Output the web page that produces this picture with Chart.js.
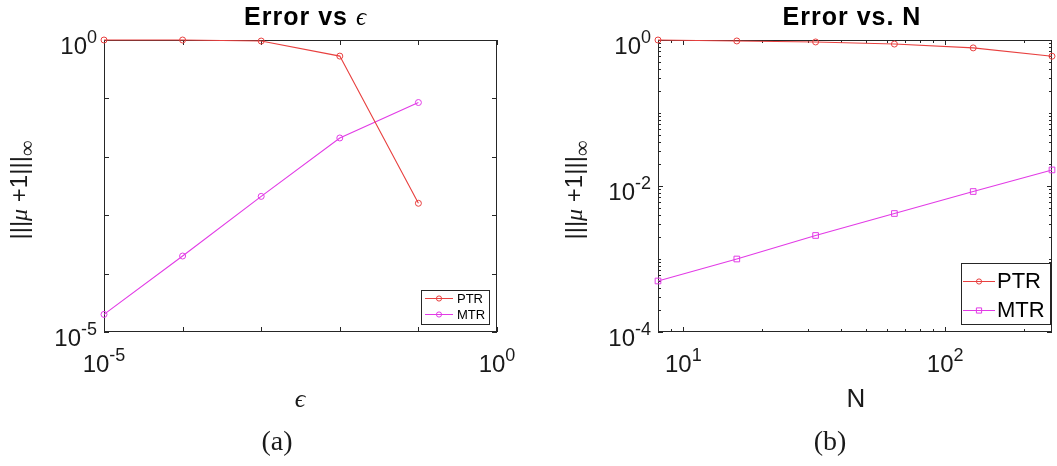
<!DOCTYPE html>
<html>
<head>
<meta charset="utf-8">
<script src="https://cdn.jsdelivr.net/npm/chart.js@4"></script>
<style>
  html, body { margin: 0; padding: 0; background: #fff; }
  #wrap { position: relative; width: 1057px; height: 466px; overflow: hidden; }
  canvas { position: absolute; top: 0; }
  #epsChart { left: 0; }
  #nChart { left: 530px; }
</style>
</head>
<body>
<div id="wrap">
  <canvas id="epsChart" width="530" height="466"></canvas>
  <canvas id="nChart" width="527" height="466"></canvas>
</div>
<script>
// panel (a): error against epsilon
const epsValues = [1e-5, 1e-4, 1e-3, 1e-2, 1e-1];
const epsPTR = [1.0, 1.0, 0.96, 0.53, 1.6e-3];
const epsMTR = [2.0e-5, 2.0e-4, 2.1e-3, 2.1e-2, 8.5e-2];
const epsMajor = [1e-5, 1e-4, 1e-3, 1e-2, 1e-1, 1];
const epsTickLabels = [[1e-5, '-5'], [1, '0']];

// panel (b): error against N
const nValues = [8, 16, 32, 64, 128, 256];
const nPTR = [1.0, 0.97, 0.94, 0.88, 0.78, 0.60];
const nMTR = [5.0e-4, 1.0e-3, 2.1e-3, 4.2e-3, 8.4e-3, 1.66e-2];
const nMajorX = [10, 100];
const nMinorX = [8, 9, 20, 30, 40, 50, 60, 70, 80, 90, 200];
const nXTickLabels = [[10, '1'], [100, '2']];
const nMajorY = [1e-4, 1e-2, 1];
const nYTickLabels = [[1, '0'], [1e-2, '-2'], [1e-4, '-4']];
const nMinorY = [];
[1e-4, 1e-3, 1e-2, 1e-1].forEach(d => {
  [2, 3, 4, 5, 6, 7, 8, 9].forEach(m => nMinorY.push(m * d));
  if (d === 1e-3 || d === 1e-1) nMinorY.push(d);
});

const RED = '#e8403f';
const MAGENTA = '#e23be6';
const AXIS = '#262626';
const SANS = 'Liberation Sans, Arial, sans-serif';
const SERIF = 'Liberation Serif, DejaVu Serif, serif';

function lineSet(label, xs, ys, color, shape, r) {
  return {
    label: label,
    data: xs.map((x, i) => ({ x: x, y: ys[i] })),
    borderColor: color,
    borderWidth: 1.1,
    backgroundColor: 'rgba(0,0,0,0)',
    pointStyle: shape,
    pointRadius: r,
    pointHoverRadius: r,
    pointBorderColor: color,
    pointBorderWidth: 1,
    pointBackgroundColor: 'rgba(0,0,0,0)',
    tension: 0,
    clip: false
  };
}

// draw a sequence of text pieces with their own fonts, one after another
function drawRuns(ctx, runs, x, y, align) {
  let total = 0;
  runs.forEach(r => {
    ctx.font = r.font;
    ctx.letterSpacing = r.spacing || '0px';
    r.w = ctx.measureText(r.text).width;
    total += r.w;
  });
  let cx = align === 'center' ? x - total / 2 : align === 'right' ? x - total : x;
  ctx.textAlign = 'left';
  ctx.textBaseline = 'alphabetic';
  runs.forEach(r => {
    ctx.font = r.font;
    ctx.letterSpacing = r.spacing || '0px';
    ctx.fillText(r.text, cx, y + (r.dy || 0));
    cx += r.w;
  });
  ctx.letterSpacing = '0px';
}

function powRuns(exp) {
  return [
    { text: '10', font: '24px ' + SANS },
    { text: exp, font: '18px ' + SANS, dy: -11 }
  ];
}

function marker(ctx, shape, x, y, r, color) {
  ctx.strokeStyle = color;
  ctx.lineWidth = 1;
  ctx.beginPath();
  if (shape === 'rect') ctx.rect(x - r, y - r, 2 * r, 2 * r);
  else ctx.arc(x, y, r, 0, Math.PI * 2);
  ctx.stroke();
}

// boxed axes, inward ticks, labels and legend in the MATLAB look
const decor = {
  id: 'decor',
  beforeDatasetsDraw(chart, args, o) {
    const ctx = chart.ctx;
    const a = chart.chartArea;
    const xs = chart.scales.x, ys = chart.scales.y;
    ctx.save();
    ctx.strokeStyle = AXIS;
    ctx.lineWidth = 1;
    ctx.strokeRect(a.left + 0.5, a.top + 0.5, a.right - a.left - 1, a.bottom - a.top - 1);
    ctx.beginPath();
    const tickX = (vals, len) => vals.forEach(v => {
      const px = Math.round(xs.getPixelForValue(v)) + 0.5;
      ctx.moveTo(px, a.bottom); ctx.lineTo(px, a.bottom - len);
      ctx.moveTo(px, a.top); ctx.lineTo(px, a.top + len);
    });
    const tickY = (vals, len) => vals.forEach(v => {
      const py = Math.round(ys.getPixelForValue(v)) + 0.5;
      ctx.moveTo(a.left, py); ctx.lineTo(a.left + len, py);
      ctx.moveTo(a.right, py); ctx.lineTo(a.right - len, py);
    });
    tickX(o.majorX, 5); tickX(o.minorX || [], 3);
    tickY(o.majorY, 5); tickY(o.minorY || [], 3);
    ctx.stroke();
    ctx.restore();
  },
  afterDatasetsDraw(chart, args, o) {
    const ctx = chart.ctx;
    const a = chart.chartArea;
    const xs = chart.scales.x, ys = chart.scales.y;
    ctx.save();
    ctx.fillStyle = '#1a1a1a';

    o.xLabels.forEach(([v, e]) => drawRuns(ctx, powRuns(e), xs.getPixelForValue(v), a.bottom + 40, 'center'));
    o.yLabels.forEach(([v, e]) => drawRuns(ctx, powRuns(e), a.left - 7, ys.getPixelForValue(v) + 14, 'right'));

    ctx.fillStyle = '#000';
    drawRuns(ctx, o.title, o.titleX, 25, 'center');
    ctx.fillStyle = '#1a1a1a';
    drawRuns(ctx, o.xTitle, o.xTitleX, 407, 'center');
    drawRuns(ctx, o.caption, o.captionX, 450, 'center');

    ctx.save();
    ctx.translate(o.yTitleX, 190);
    ctx.rotate(-Math.PI / 2);
    drawRuns(ctx, [
      { text: '|||', font: '24px ' + SANS },
      { text: 'μ', font: 'italic 24px ' + SERIF },
      { text: ' +1|||', font: '24px ' + SANS },
      { text: '∞', font: '22px ' + SERIF, dy: 7 }
    ], 0, 0, 'center');
    ctx.restore();

    const L = o.legend;
    ctx.fillStyle = '#fff';
    ctx.fillRect(L.x, L.y, L.w, L.h);
    ctx.strokeStyle = AXIS;
    ctx.lineWidth = 1;
    ctx.strokeRect(L.x + 0.5, L.y + 0.5, L.w, L.h);
    chart.data.datasets.forEach((ds, i) => {
      const cy = L.y + L.rows[i];
      ctx.strokeStyle = ds.borderColor;
      ctx.lineWidth = 1;
      ctx.beginPath();
      ctx.moveTo(L.x + L.line[0], cy + 0.5);
      ctx.lineTo(L.x + L.line[1], cy + 0.5);
      ctx.stroke();
      marker(ctx, ds.pointStyle, L.x + (L.line[0] + L.line[1]) / 2, cy + 0.5, L.mark, ds.borderColor);
      ctx.fillStyle = '#000';
      ctx.font = L.font + 'px ' + SANS;
      ctx.textAlign = 'left';
      ctx.textBaseline = 'middle';
      ctx.fillText(ds.label, L.x + L.text, cy + 1);
    });
    ctx.restore();
  }
};

function baseOptions(pad, xr, yr, decorOpts) {
  return {
    responsive: false,
    animation: false,
    layout: { padding: pad },
    scales: {
      x: { type: 'logarithmic', min: xr[0], max: xr[1], display: false },
      y: { type: 'logarithmic', min: yr[0], max: yr[1], display: false }
    },
    plugins: {
      legend: { display: false },
      tooltip: { enabled: false },
      decor: decorOpts
    }
  };
}

new Chart(document.getElementById('epsChart'), {
  type: 'line',
  data: {
    datasets: [
      lineSet('PTR', epsValues, epsPTR, RED, 'circle', 3),
      lineSet('MTR', epsValues, epsMTR, MAGENTA, 'circle', 3)
    ]
  },
  options: baseOptions({ left: 104, top: 40, right: 33, bottom: 134 }, [1e-5, 1], [1e-5, 1], {
    majorX: epsMajor, majorY: epsMajor,
    xLabels: epsTickLabels, yLabels: epsTickLabels,
    title: [
      { text: 'Error vs ', font: 'bold 25px ' + SANS, spacing: '1px' },
      { text: 'ϵ', font: 'italic 25px ' + SERIF }
    ],
    titleX: 305,
    xTitle: [{ text: 'ϵ', font: 'italic 26px ' + SERIF }],
    xTitleX: 300,
    caption: [{ text: '(a)', font: '28px ' + SERIF }],
    captionX: 277,
    yTitleX: 27,
    legend: { x: 421, y: 290, w: 68, h: 34, rows: [8, 24], line: [4, 32], mark: 2.6, text: 36, font: 13 }
  }),
  plugins: [decor]
});

new Chart(document.getElementById('nChart'), {
  type: 'line',
  data: {
    datasets: [
      lineSet('PTR', nValues, nPTR, RED, 'circle', 3),
      lineSet('MTR', nValues, nMTR, MAGENTA, 'rect', 4)
    ]
  },
  options: baseOptions({ left: 128, top: 40, right: 2, bottom: 134 }, [8, 256], [1e-4, 1], {
    majorX: nMajorX, minorX: nMinorX, majorY: nMajorY, minorY: nMinorY,
    xLabels: nXTickLabels, yLabels: nYTickLabels,
    title: [{ text: 'Error vs. N', font: 'bold 25px ' + SANS, spacing: '1px' }],
    titleX: 322,
    xTitle: [{ text: 'N', font: '26px ' + SANS }],
    xTitleX: 326,
    caption: [{ text: '(b)', font: '28px ' + SERIF }],
    captionX: 300,
    yTitleX: 52,
    legend: { x: 431, y: 263, w: 89, h: 61, rows: [18, 47], line: [2, 34], mark: 2.6, text: 36, font: 22 }
  }),
  plugins: [decor]
});
</script>
</body>
</html>
